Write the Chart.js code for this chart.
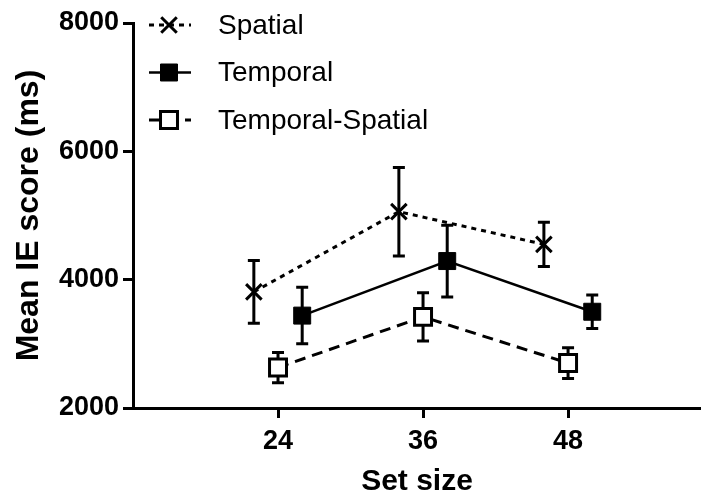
<!DOCTYPE html>
<html><head><meta charset="utf-8">
<style>html,body{margin:0;padding:0;background:#fff}</style>
<script src="https://cdn.jsdelivr.net/npm/chart.js@4.4.0/dist/chart.umd.min.js"></script>
</head><body>
<canvas id="c" width="701" height="497"></canvas>
<script>
const setSizes = [24, 36, 48];
const xTickValues = [24, 36, 48];
const yTickValues = [2000, 4000, 6000, 8000];
const seriesNames = ['Spatial', 'Temporal', 'Temporal-Spatial'];
const spatialMean = [3810, 5060, 4550];
const spatialErr = [490, 690, 345];
const temporalMean = [3440, 4290, 3500];
const temporalErr = [440, 560, 260];
const tsMean = [2630, 3420, 2700];
const tsErr = [235, 375, 240];

const FONT = "'Liberation Sans', Arial, sans-serif";
Chart.defaults.font.family = FONT;
Chart.defaults.color = '#000';

const nudge = [-2, 2, 0];
function pts(means, k) { return means.map((m, i) => ({x: setSizes[i] + nudge[k], y: m})); }

const datasets = [
  {label: seriesNames[0], data: pts(spatialMean, 0), errors: spatialErr,
   borderColor: '#000', borderWidth: 3, borderDash: [5, 5], pointStyle: 'crossRot',
   pointRadius: 11, pointBorderWidth: 3, pointBorderColor: '#000', pointBackgroundColor: '#000'},
  {label: seriesNames[1], data: pts(temporalMean, 1), errors: temporalErr,
   borderColor: '#000', borderWidth: 2.5, pointStyle: 'rect',
   pointRadius: 12, pointBorderWidth: 1, pointBorderColor: '#000', pointBackgroundColor: '#000'},
  {label: seriesNames[2], data: pts(tsMean, 2), errors: tsErr,
   borderColor: '#000', borderWidth: 3, borderDash: [11, 7], pointStyle: 'rect',
   pointRadius: 12, pointBorderWidth: 3, pointBorderColor: '#000', pointBackgroundColor: '#fff'}
];

const errorBars = {
  id: 'errorBars',
  beforeDatasetsDraw(chart) {
    const {ctx, scales: {x, y}} = chart;
    ctx.save();
    ctx.strokeStyle = '#000';
    ctx.lineWidth = 3;
    ctx.setLineDash([]);
    chart.data.datasets.forEach(ds => {
      ds.data.forEach((p, i) => {
        const px = x.getPixelForValue(p.x);
        const yt = y.getPixelForValue(p.y + ds.errors[i]);
        const yb = y.getPixelForValue(p.y - ds.errors[i]);
        ctx.beginPath();
        ctx.moveTo(px, yt); ctx.lineTo(px, yb);
        ctx.moveTo(px - 6, yt); ctx.lineTo(px + 6, yt);
        ctx.moveTo(px - 6, yb); ctx.lineTo(px + 6, yb);
        ctx.stroke();
      });
    });
    ctx.restore();
  }
};

const customLegend = {
  id: 'customLegend',
  afterDraw(chart) {
    const {ctx} = chart;
    ctx.save();
    chart.data.datasets.forEach((ds, k) => {
      const yc = 25 + k * 47.5;
      ctx.strokeStyle = '#000';
      ctx.lineWidth = ds.borderWidth;
      ctx.setLineDash(ds.borderDash || []);
      ctx.beginPath(); ctx.moveTo(149, yc); ctx.lineTo(191, yc); ctx.stroke();
      ctx.setLineDash([]);
      ctx.fillStyle = ds.pointBackgroundColor;
      ctx.strokeStyle = ds.pointBorderColor;
      ctx.lineWidth = ds.pointBorderWidth;
      Chart.helpers.drawPoint(ctx, {pointStyle: ds.pointStyle, radius: ds.pointRadius, rotation: 0, borderWidth: ds.pointBorderWidth}, 169, yc);
      ctx.fillStyle = '#000';
      ctx.font = '28px ' + FONT;
      ctx.textBaseline = 'middle';
      ctx.textAlign = 'left';
      ctx.fillText(ds.label, 218, yc + 1);
    });
    ctx.restore();
  }
};

new Chart(document.getElementById('c'), {
  type: 'line',
  data: {datasets},
  plugins: [errorBars, customLegend],
  options: {
    responsive: false,
    animation: false,
    devicePixelRatio: 1,
    layout: {autoPadding: false, padding: {top: 23, right: 0, left: 0, bottom: 0}},
    plugins: {legend: {display: false}, tooltip: {enabled: false}},
    scales: {
      x: {
        type: 'linear', min: 12, max: 59,
        afterBuildTicks: s => { s.ticks = xTickValues.map(v => ({value: v})); },
        afterFit: s => { s.height = 89; },
        ticks: {font: {size: 27, weight: 'bold'}, color: '#000', padding: 7},
        grid: {drawOnChartArea: false, drawTicks: true, tickLength: 10, tickWidth: 3, color: '#000'},
        border: {display: true, width: 3, color: '#000'},
        title: {display: true, text: 'Set size', font: {size: 30, weight: 'bold', lineHeight: 1.0}, color: '#000', padding: {top: 0, bottom: 0}}
      },
      y: {
        min: 2000, max: 8000,
        afterBuildTicks: s => { s.ticks = yTickValues.map(v => ({value: v})); },
        afterFit: s => { s.width = 133; },
        ticks: {font: {size: 27, weight: 'bold'}, color: '#000', padding: 4, callback: v => String(v)},
        grid: {drawOnChartArea: false, drawTicks: true, tickLength: 10, tickWidth: 3, color: '#000'},
        border: {display: true, width: 3, color: '#000'},
        title: {display: true, text: 'Mean IE score (ms)', font: {size: 32, weight: 'bold', lineHeight: 1.2}, color: '#000', padding: {top: 10, bottom: 0}}
      }
    }
  }
});
</script>
</body></html>
